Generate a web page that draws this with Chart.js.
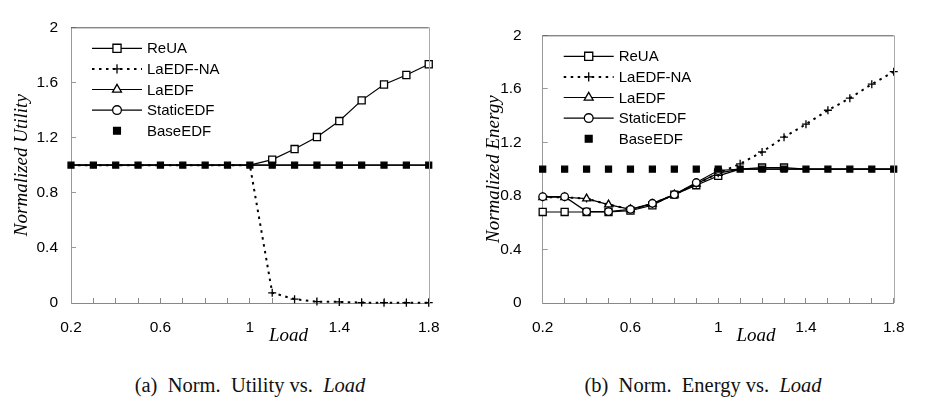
<!DOCTYPE html>
<html>
<head>
<meta charset="utf-8">
<script src="https://cdn.jsdelivr.net/npm/chart.js@4/dist/chart.umd.min.js"></script>
<style>
body { margin: 0; background: #fff; }
#wrap { position: relative; width: 925px; height: 401px; overflow: hidden; background: #fff; }
canvas { position: absolute; top: 0; }
.cap { position: absolute; top: 375px; font: 20.5px "Liberation Serif", serif; line-height: 20px;
       white-space: nowrap; transform: translateX(-50%); color: #111; }
</style>
</head>
<body>
<div id="wrap">
  <canvas id="c1" width="460" height="350" style="left:0"></canvas>
  <canvas id="c2" width="465" height="350" style="left:460px"></canvas>
  <div class="cap" style="left:250px">(a)&nbsp; Norm.&nbsp; Utility vs.&nbsp; <i>Load</i></div>
  <div class="cap" style="left:703px">(b)&nbsp; Norm.&nbsp; Energy vs.&nbsp; <i>Load</i></div>
</div>
<script>
const loads = [0.2,0.3,0.4,0.5,0.6,0.7,0.8,0.9,1.0,1.1,1.2,1.3,1.4,1.5,1.6,1.7,1.8];
const seriesNames = ["ReUA","LaEDF-NA","LaEDF","StaticEDF","BaseEDF"];
const xTickLabels = [0.2,0.6,1.0,1.4,1.8];
const yTickLabels = [0,0.4,0.8,1.2,1.6,2];

// (a) normalized utility
const utilReUA      = [1,1,1,1,1,1,1,1,1,1.04,1.117,1.204,1.32,1.47,1.585,1.654,1.732];
const utilLaEDFNA   = [1,1,1,1,1,1,1,1,1,0.074,0.028,0.01,0.008,0.003,0.002,0.002,0.002];
const utilLaEDF     = [1,1,1,1,1,1,1,1,1,1,1,1,1,1,1,1,1];
const utilStaticEDF = [1,1,1,1,1,1,1,1,1,1,1,1,1,1,1,1,1];
const utilBaseEDF   = [1,1,1,1,1,1,1,1,1,1,1,1,1,1,1,1,1];

// (b) normalized energy
const enerReUA      = [0.68,0.68,0.68,0.68,0.69,0.73,0.81,0.88,0.95,1,1.012,1.012,1,1,1,1,1];
const enerLaEDFNA   = [0.79,0.79,0.78,0.735,0.70,0.74,0.81,0.89,0.97,1.04,1.128,1.239,1.336,1.44,1.53,1.635,1.728];
const enerLaEDF     = [0.79,0.79,0.78,0.735,0.70,0.74,0.81,0.89,0.97,1,1,1,1,1,1,1,1];
const enerStaticEDF = [0.794,0.794,0.683,0.683,0.70,0.745,0.81,0.90,0.99,1,1,1,1,1,1,1,1];
const enerBaseEDF   = [1,1,1,1,1,1,1,1,1,1,1,1,1,1,1,1,1];

const SANS = '"Liberation Sans", Arial, sans-serif';
const SERIF = '"Liberation Serif", "Times New Roman", serif';

const styles = {
  "ReUA":      { pointStyle: 'rect', radius: 5, fill: '#fff', dash: [], line: true, order: 4 },
  "LaEDF-NA":  { pointStyle: 'cross', radius: 4, fill: '#000', dash: [2.5, 4.5], line: true, order: 3, width: 2 },
  "LaEDF":     { pointStyle: 'triangle', radius: 4.5, fill: '#fff', dash: [], line: true, order: 2 },
  "StaticEDF": { pointStyle: 'circle', radius: 3.8, fill: '#fff', dash: [], line: true, order: 1 },
  "BaseEDF":   { pointStyle: 'rect', radius: 4.2, fill: '#000', dash: [], line: false, order: 0 }
};

function pts(vals) {
  return loads.map((x, i) => ({ x: x, y: vals[i] }));
}

function makeDatasets(lists) {
  const base = lists[lists.length - 1];
  return seriesNames.map((name, i) => {
    const s = styles[name];
    // markers lying on a BaseEDF point are hidden behind it in the original
    const radius = lists[i].map((v, j) =>
      name !== 'BaseEDF' && Math.abs(v - base[j]) < 1e-9 ? 0 : s.radius);
    return {
      label: name,
      data: pts(lists[i]),
      borderColor: '#000',
      borderWidth: s.width || 1.2,
      borderDash: s.dash,
      showLine: s.line,
      pointStyle: s.pointStyle,
      pointRadius: radius,
      pointBackgroundColor: s.fill,
      pointBorderColor: '#000',
      pointBorderWidth: 1.3,
      tension: 0,
      clip: false,
      order: s.order
    };
  });
}

function drawMarker(ctx, name, x, y) {
  const s = styles[name];
  const r = s.radius * 1.15;
  ctx.save();
  ctx.setLineDash([]);
  ctx.lineWidth = 1.3;
  ctx.strokeStyle = '#000';
  ctx.fillStyle = s.fill;
  ctx.beginPath();
  if (s.pointStyle === 'rect') {
    const h = r * Math.SQRT1_2;
    ctx.rect(x - h, y - h, 2 * h, 2 * h);
    ctx.fill(); ctx.stroke();
  } else if (s.pointStyle === 'circle') {
    ctx.arc(x, y, r, 0, Math.PI * 2);
    ctx.fill(); ctx.stroke();
  } else if (s.pointStyle === 'triangle') {
    ctx.moveTo(x, y - r);
    ctx.lineTo(x + r * 0.866, y + r * 0.5);
    ctx.lineTo(x - r * 0.866, y + r * 0.5);
    ctx.closePath();
    ctx.fill(); ctx.stroke();
  } else if (s.pointStyle === 'cross') {
    ctx.moveTo(x - r, y); ctx.lineTo(x + r, y);
    ctx.moveTo(x, y - r); ctx.lineTo(x, y + r);
    ctx.stroke();
  }
  ctx.restore();
}

// legend, box lines and the "Load" label
const extras = {
  id: 'extras',
  afterDraw(chart) {
    const ctx = chart.ctx;
    const a = chart.chartArea;
    ctx.save();
    // top and right borders
    ctx.lineWidth = 1;
    ctx.strokeStyle = '#555';
    ctx.beginPath(); ctx.moveTo(a.left, a.top + 0.5); ctx.lineTo(a.right, a.top + 0.5); ctx.stroke();
    ctx.strokeStyle = '#aaa';
    ctx.beginPath(); ctx.moveTo(Math.round(a.right) + 0.5, a.top); ctx.lineTo(Math.round(a.right) + 0.5, a.bottom); ctx.stroke();

    // Load label
    const xs = chart.scales.x;
    ctx.fillStyle = '#000';
    ctx.font = 'italic 19px ' + SERIF;
    ctx.textAlign = 'center';
    ctx.textBaseline = 'alphabetic';
    ctx.fillText('Load', xs.getPixelForValue(1.2) - 6, 341);

    // legend
    const x0 = a.left + 21, x1 = x0 + 50;
    ctx.font = '15px ' + SANS;
    ctx.textAlign = 'left';
    ctx.textBaseline = 'middle';
    seriesNames.forEach((name, i) => {
      const y = a.top + 21 + i * 20.6;
      const s = styles[name];
      if (s.line) {
        ctx.save();
        ctx.strokeStyle = '#000';
        ctx.lineWidth = s.width || 1.2;
        ctx.setLineDash(s.dash);
        ctx.beginPath(); ctx.moveTo(x0, y); ctx.lineTo(x1, y); ctx.stroke();
        ctx.restore();
      }
      drawMarker(ctx, name, (x0 + x1) / 2, y);
      ctx.fillStyle = '#000';
      ctx.fillText(name, x1 + 5, y + 1);
    });
    ctx.restore();
  }
};

function isLabel(v) {
  return xTickLabels.some(t => Math.abs(t - v) < 1e-6);
}

function makeChart(id, lists, yTitle, cfg) {
  return new Chart(document.getElementById(id), {
    type: 'line',
    data: { datasets: makeDatasets(lists) },
    plugins: [extras],
    options: {
      responsive: false,
      animation: false,
      layout: { padding: { top: 14, right: cfg.padRight, left: 0, bottom: 0 } },
      plugins: { legend: { display: false }, tooltip: { enabled: false } },
      scales: {
        x: {
          type: 'linear',
          min: 0.2, max: 1.8,
          afterFit(s) { s.height = 47; },
          border: { display: true, color: '#888', width: 1 },
          grid: { display: true, drawOnChartArea: false, drawTicks: true, tickLength: -5, tickColor: '#888' },
          ticks: {
            stepSize: 0.1, autoSkip: false, maxRotation: 0, padding: 20.5,
            color: '#000', font: { family: SANS, size: 15.5 },
            callback: v => isLabel(v) ? String(Math.round(v * 10) / 10) : ''
          }
        },
        y: {
          min: 0, max: 2,
          afterFit(s) { s.width = cfg.yWidth; },
          border: { display: true, color: '#999', width: 1 },
          grid: { display: true, drawOnChartArea: false, drawTicks: true, tickLength: -5, tickColor: '#999' },
          ticks: {
            stepSize: 0.4, padding: cfg.yPad,
            color: '#000', font: { family: SANS, size: 15.5 },
            callback: v => yTickLabels.some(t => Math.abs(t - v) < 1e-6) ? String(Math.round(v * 10) / 10) : ''
          },
          title: {
            display: true, text: yTitle, color: '#000',
            font: { family: SERIF, size: 19, style: 'italic' },
            padding: { top: cfg.titlePad, bottom: 0 }
          }
        }
      }
    }
  });
}

makeChart('c1', [utilReUA, utilLaEDFNA, utilLaEDF, utilStaticEDF, utilBaseEDF],
  'Normalized Utility', { padRight: 21, yWidth: 71, yPad: 18, titlePad: 10.6 });
makeChart('c2', [enerReUA, enerLaEDFNA, enerLaEDF, enerStaticEDF, enerBaseEDF],
  'Normalized Energy', { padRight: 14.3, yWidth: 82.7, yPad: 26, titlePad: 22.6 });
</script>
</body>
</html>
